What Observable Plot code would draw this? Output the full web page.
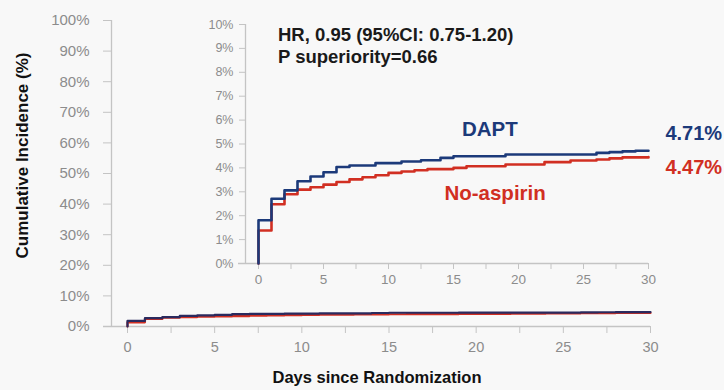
<!DOCTYPE html>
<html>
<head>
<meta charset="utf-8">
<script src="https://cdn.jsdelivr.net/npm/d3@7"></script>
<script src="https://cdn.jsdelivr.net/npm/@observablehq/plot@0.6"></script>
<style>
  html, body { margin: 0; padding: 0; background: #f8f8f8; }
  #wrap { position: relative; width: 724px; height: 390px; }
  #wrap svg { position: absolute; left: 0; top: 0; }
</style>
</head>
<body>
<div id="wrap"></div>
<script>
// ---- data ----
const daptDays   = [0, 0, 1, 2, 3, 4, 5, 6, 7, 9, 11, 12.5, 14, 15, 19, 26, 27, 28, 29, 30];
const daptValues = [0, 1.81, 2.71, 3.06, 3.44, 3.64, 3.82, 4.04, 4.10, 4.20, 4.27, 4.32, 4.42, 4.49, 4.56, 4.63, 4.66, 4.69, 4.72, 4.72];
const noAspDays   = [0, 0, 1, 2, 3, 4, 5, 6, 7, 8, 9, 10, 11, 12, 13, 15, 16, 19, 22, 24, 26, 27, 28, 30];
const noAspValues = [0, 1.38, 2.48, 2.90, 3.09, 3.19, 3.30, 3.41, 3.52, 3.61, 3.69, 3.79, 3.85, 3.90, 3.95, 4.00, 4.07, 4.14, 4.24, 4.31, 4.35, 4.40, 4.44, 4.45];

const seriesNames = ["DAPT", "No-aspirin"];
const seriesColors = ["#1c3a7a", "#d12f22"];

const mainYTicks = [0, 10, 20, 30, 40, 50, 60, 70, 80, 90, 100];
const insetYTicks = [0, 1, 2, 3, 4, 5, 6, 7, 8, 9, 10];
const xTicks = [0, 2.5, 5, 7.5, 10, 12.5, 15, 17.5, 20, 22.5, 25, 27.5, 30];

const yTitle = "Cumulative Incidence (%)";
const xTitle = "Days since Randomization";

// annotation texts (positions in data units of the inset)
const statText = ["HR, 0.95 (95%CI: 0.75-1.20)", "P superiority=0.66"];
const statDay = [1.5, 1.5];
const statPct = [9.55, 8.65];
const seriesLabelDay = [17.8, 18.2];
const seriesLabelPct = [5.6, 2.93];
const endText = ["4.71%", "4.47%"];
const endPct = [5.42, 4.03];
const endDay = [31.3, 31.3];

// ---- build tables ----
const dapt = daptDays.map((d, i) => ({day: d, pct: daptValues[i], s: seriesNames[0]}));
const noAsp = noAspDays.map((d, i) => ({day: d, pct: noAspValues[i], s: seriesNames[1]}));

const font = "'Liberation Sans', Arial, sans-serif";
const axisGray = "#c4c4c4";
const labelGray = "#8c8c8c";
const fmtX = d => (d % 5 === 0 ? String(d) : "");

// ---- main chart (0-100%) ----
const main = Plot.plot({
  width: 724, height: 390,
  marginLeft: 111, marginRight: 74, marginTop: 20, marginBottom: 64,
  style: {background: "transparent", fontFamily: font, overflow: "visible"},
  x: {domain: [0, 30], range: [127, 650]},
  y: {domain: [0, 100], range: [326, 20]},
  marks: [
    Plot.ruleX([0], {dx: -16, stroke: axisGray, strokeWidth: 1.3}),
    Plot.ruleY([0], {stroke: axisGray, strokeWidth: 1.3, insetLeft: -8}),
    Plot.axisY({ticks: mainYTicks, tickFormat: d => d + "%", tickSize: 8, tickPadding: 14,
      fontSize: 15, fill: labelGray, stroke: axisGray, label: null}),
    Plot.axisX({ticks: xTicks, tickFormat: fmtX, tickSize: 7, tickPadding: 8,
      fontSize: 14.5, fill: labelGray, stroke: axisGray, label: null}),
    Plot.line(noAsp, {x: "day", y: "pct", curve: "step-after", stroke: seriesColors[1], strokeWidth: 2.2}),
    Plot.line(dapt, {x: "day", y: "pct", curve: "step-after", stroke: "#2a2a5e", strokeWidth: 2.2}),
    Plot.text([yTitle], {frameAnchor: "left", rotate: -90, dx: -89, dy: -18, textAnchor: "middle",
      fontSize: 17, fontWeight: "bold", fill: "#111"}),
    Plot.text([xTitle], {frameAnchor: "bottom", dy: 56, dx: -4, textAnchor: "middle",
      fontSize: 16.5, fontWeight: "bold", fill: "#111"})
  ]
});

// ---- inset chart (0-10%) ----
const inset = Plot.plot({
  width: 724, height: 390,
  marginLeft: 245, marginRight: 76, marginTop: 24, marginBottom: 127,
  style: {background: "transparent", fontFamily: font, overflow: "visible"},
  x: {domain: [0, 30], range: [258, 648]},
  y: {domain: [0, 10], range: [263, 24]},
  marks: [
    Plot.ruleX([0], {dx: -13, stroke: axisGray, strokeWidth: 1.3}),
    Plot.ruleY([0], {stroke: axisGray, strokeWidth: 1.3, insetLeft: -7}),
    Plot.axisY({ticks: insetYTicks, tickFormat: d => d + "%", tickSize: 6, tickPadding: 6,
      fontSize: 12.5, fill: labelGray, stroke: axisGray, label: null}),
    Plot.axisX({ticks: xTicks, tickFormat: fmtX, tickSize: 6, tickPadding: 5,
      fontSize: 13.5, fill: labelGray, stroke: axisGray, label: null}),
    Plot.line(noAsp, {x: "day", y: "pct", curve: "step-after", stroke: seriesColors[1], strokeWidth: 2.6}),
    Plot.line(dapt, {x: "day", y: "pct", curve: "step-after", stroke: seriesColors[0], strokeWidth: 2.6}),
    Plot.text(statText, {x: (d, i) => statDay[i], y: (d, i) => statPct[i], text: d => d,
      textAnchor: "start", fontSize: 18.5, fontWeight: "bold", fill: "#1a1a1a"}),
    Plot.text(seriesNames, {x: (d, i) => seriesLabelDay[i], y: (d, i) => seriesLabelPct[i], text: d => d,
      fill: (d, i) => seriesColors[i], fontSize: 20.5, fontWeight: "bold"}),
    Plot.text(endText, {x: (d, i) => endDay[i], y: (d, i) => endPct[i], text: d => d,
      fill: (d, i) => seriesColors[i], textAnchor: "start", fontSize: 20, fontWeight: "bold"})
  ]
});

document.getElementById("wrap").append(main, inset);
</script>
</body>
</html>
